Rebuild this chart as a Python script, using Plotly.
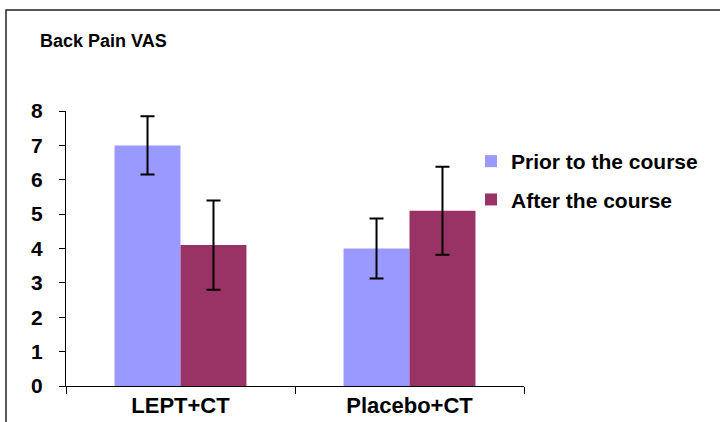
import plotly.graph_objects as go

# data
groups = ["LEPT+CT", "Placebo+CT"]
series_names = ["Prior to the course", "After the course"]
prior_vals = [7.0, 4.0]
prior_err = [0.85, 0.87]
after_vals = [4.1, 5.1]
after_err = [1.3, 1.28]

colors = ["#9999FF", "#993366"]
font_family = "Arial, Liberation Sans, sans-serif"

fig = go.Figure()
for i, (name, vals, errs) in enumerate(zip(series_names, [prior_vals, after_vals], [prior_err, after_err])):
    fig.add_trace(go.Bar(
        x=groups, y=vals, name=name,
        marker=dict(color=colors[i], line=dict(width=0)),
        error_y=dict(type="data", array=errs, visible=True,
                     color="black", thickness=2, width=7),
        legendgroup=f"g{i}",
    ))

# plot area: x 66..524 px, y 111..386 px
l, r, t, b = 66, 196, 111, 36
pw, ph = 720 - l - r, 422 - t - b


def px_x(x):
    return (x - l) / pw


def px_y(y):
    return (422 - b - y) / ph


fig.update_layout(
    width=720, height=422,
    margin=dict(l=l, r=r, t=t, b=b, autoexpand=False),
    paper_bgcolor="white", plot_bgcolor="white",
    font=dict(family=font_family, color="black"),
    barmode="group", bargap=0.424, bargroupgap=0,
    title=dict(text="Back Pain VAS", x=40 / 720, xref="container", xanchor="left",
               y=1 - 41 / 422, yref="container", yanchor="middle",
               font=dict(size=18, weight="bold")),
    legend=dict(x=471 / 720, xref="container", xanchor="left",
                y=1 - 141 / 422, yref="container", yanchor="top",
                font=dict(size=21, weight="bold"), traceorder="grouped",
                tracegroupgap=8, bgcolor="rgba(0,0,0,0)"),
    showlegend=True,
)
fig.update_xaxes(showline=True, linecolor="black", linewidth=1,
                 ticks="outside", tickson="boundaries", ticklen=7, tickcolor="black",
                 tickfont=dict(size=22, weight="bold"), showgrid=False)
fig.update_yaxes(range=[0, 8], dtick=1, showline=True, linecolor="black", linewidth=1,
                 ticks="outside", ticklen=6, tickcolor="black", ticklabelstandoff=12,
                 tickfont=dict(size=21, weight="bold"), showgrid=False, zeroline=False)

# outer frame of the original figure
fig.add_shape(type="rect", xref="paper", yref="paper",
              x0=px_x(6), x1=px_x(740), y0=px_y(440), y1=px_y(10),
              line=dict(color="#222222", width=1.5), fillcolor="rgba(0,0,0,0)")

# drop the default page margin so the figure sits at the window's corner
fig.write_html("out.html", config={"displayModeBar": False},
               post_script="document.body.style.margin='0px';")
